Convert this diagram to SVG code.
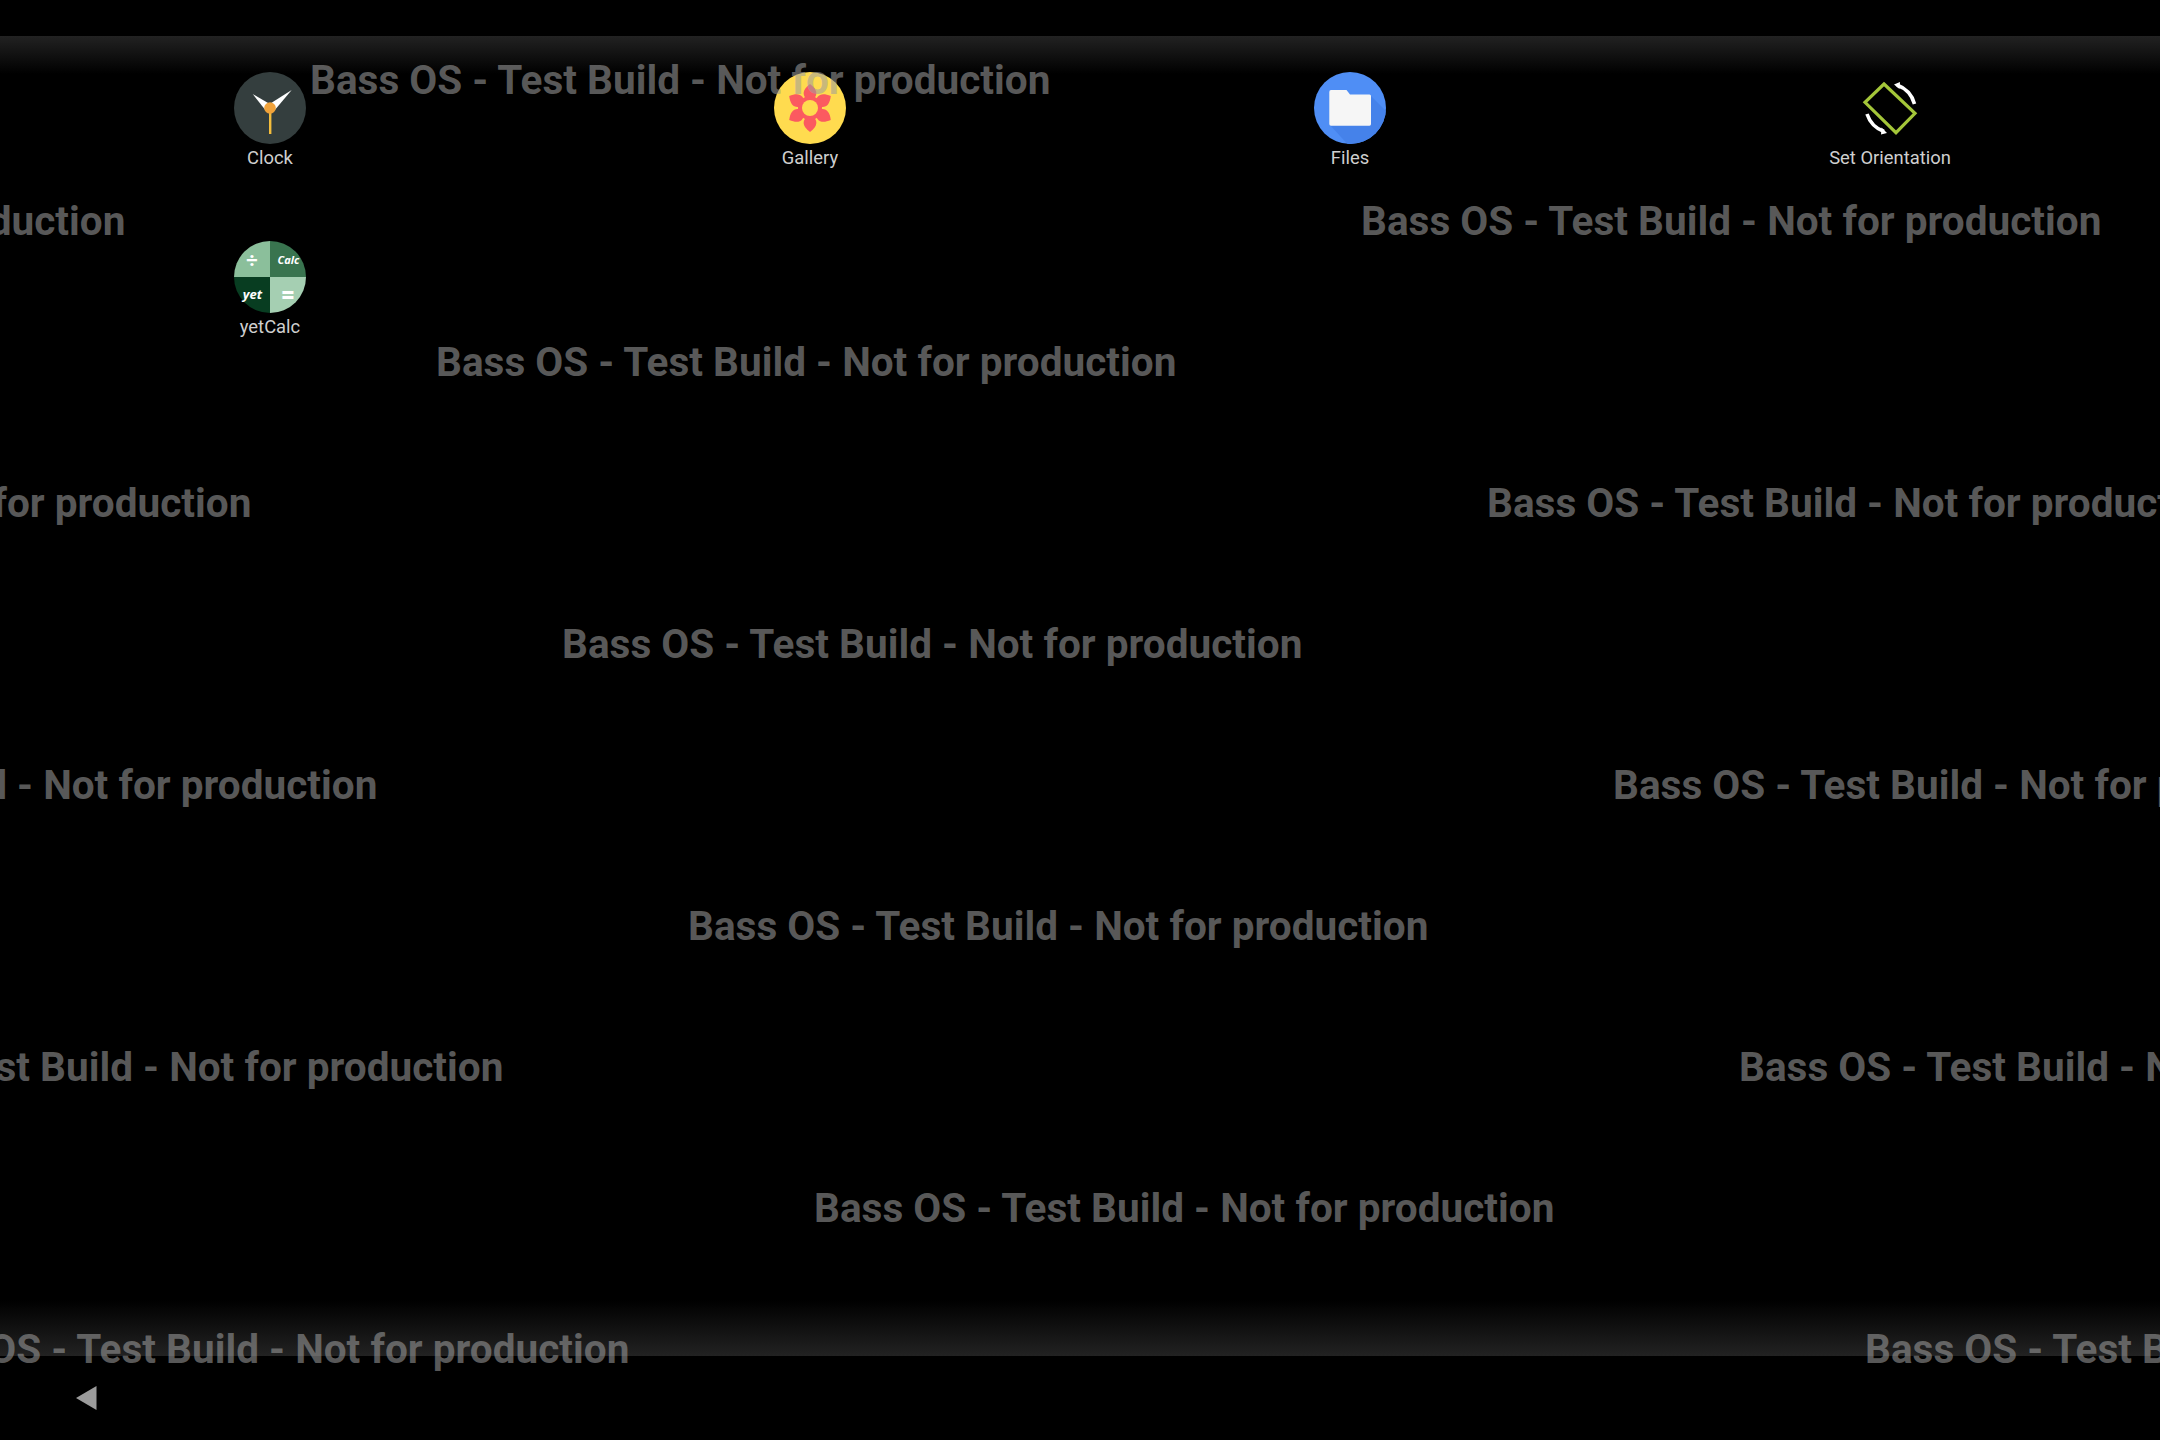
<svg xmlns="http://www.w3.org/2000/svg" width="2160" height="1440" viewBox="0 0 2160 1440">
<style>
.wm{font-family:Roboto,"Liberation Sans",sans-serif;font-weight:700;font-size:40.55px;fill:#9e9e9e;fill-opacity:.56}
.lb{font-family:Roboto,"Liberation Sans",sans-serif;font-size:18.4px;fill:#cfcfcf;text-anchor:middle}
.ic{font-family:"Open Sans","Liberation Sans",sans-serif;font-weight:700;font-style:italic;fill:#fff;text-anchor:middle}
.op{font-family:Roboto,"Liberation Sans",sans-serif;font-weight:700;fill:#fff;text-anchor:middle}
</style>
<defs>
<linearGradient id="top" x1="0" y1="0" x2="0" y2="1"><stop offset="0" stop-color="#222"/><stop offset="1" stop-color="#000"/></linearGradient>
<linearGradient id="bot" x1="0" y1="0" x2="0" y2="1"><stop offset="0" stop-color="#000"/><stop offset="1" stop-color="#222"/></linearGradient>
<clipPath id="calc"><circle cx="270" cy="277" r="36"/></clipPath>
<clipPath id="files"><circle cx="1350" cy="108" r="36"/></clipPath>
<path id="petal" d="M0 -6C-9 -12 -8 -18 0 -24C8 -18 9 -12 0 -6Z"/>
</defs>
<rect width="2160" height="1440" fill="#000"/>
<rect y="36" width="2160" height="38" fill="url(#top)"/>
<rect y="1300" width="2160" height="56" fill="url(#bot)"/>
<g id="node-clock">
<circle cx="270" cy="108" r="36" fill="#343e3e"/>
<path d="M252.700 94 L271.500 105 L266.500 111.500Z" fill="#fff"/>
<path d="M291.700 90 L274 111 L268 105Z" fill="#fff"/>
<rect x="269" y="110" width="2.400" height="24" fill="#f4bd3c"/>
<circle cx="270" cy="108" r="5.800" fill="#f0a23a"/>
<text class="lb" x="270" y="164">Clock</text>
</g>
<g id="node-gallery">
<circle cx="810" cy="108" r="36" fill="#ffdb4f"/>
<g fill="#fb5a60">
<use href="#petal" transform="translate(810 108)"/>
<use href="#petal" transform="translate(810 108) rotate(60)"/>
<use href="#petal" transform="translate(810 108) rotate(120)"/>
<use href="#petal" transform="translate(810 108) rotate(180)"/>
<use href="#petal" transform="translate(810 108) rotate(240)"/>
<use href="#petal" transform="translate(810 108) rotate(300)"/>
<circle cx="810" cy="108" r="12"/>
</g>
<circle cx="810" cy="108" r="8" fill="#ffdb4f"/>
<text class="lb" x="810" y="164">Gallery</text>
</g>
<g id="node-files">
<circle cx="1350" cy="108" r="36" fill="#4f8ef5"/>
<path clip-path="url(#files)" d="M1371 96 L1400 125 L1400 160 L1362 160 L1330 125Z" fill="#4582ea"/>
<path d="M1331 90H1346.500L1350 94.500H1369.500Q1371 94.500 1371 96V124Q1371 125.700 1369.500 125.700H1331Q1329.300 125.700 1329.300 124V92Q1329.300 90 1331 90Z" fill="#f6f6f6"/>
<text class="lb" x="1350" y="164">Files</text>
</g>
<g id="node-orientation">
<path d="M1884 84L1915 113.300L1896 132.700L1865 102.300Z" fill="none" stroke="#a4c639" stroke-width="3.200"/>
<path d="M1897 85A28 28 0 0 1 1914.500 104" fill="none" stroke="#fff" stroke-width="3.600"/>
<path d="M1894 84.500L1900 82L1899.500 89Z" fill="#fff"/>
<path d="M1867 114A28 28 0 0 0 1884 131.500" fill="none" stroke="#fff" stroke-width="3.600"/>
<path d="M1887 133L1881 134.500L1881.500 127.500Z" fill="#fff"/>
<text class="lb" x="1890" y="164">Set Orientation</text>
</g>
<g id="node-yetcalc">
<g clip-path="url(#calc)">
<rect x="234" y="241" width="36" height="36" fill="#8bbf9b"/>
<rect x="270" y="241" width="36" height="36" fill="#39744f"/>
<rect x="234" y="277" width="36" height="36" fill="#083d21"/>
<rect x="270" y="277" width="36" height="36" fill="#a5cfb2"/>
</g>
<text class="op" x="252" y="266.500" font-size="20">÷</text>
<text class="ic" x="288.500" y="264" font-size="11">Calc</text>
<text class="ic" x="252.500" y="299" font-size="13">yet</text>
<text class="op" x="288" y="303" font-size="25">=</text>
<text class="lb" x="270" y="333">yetCalc</text>
</g>
<g id="node-back"><path d="M76 1398L96.500 1386V1410Z" fill="#9b9b9b"/></g>
<g id="connectors"/>
<g id="watermarks">
<text class="wm" x="310" y="94">Bass OS - Test Build - Not for production</text>
<text class="wm" x="-615" y="235">Bass OS - Test Build - Not for production</text>
<text class="wm" x="1361" y="235">Bass OS - Test Build - Not for production</text>
<text class="wm" x="436" y="376">Bass OS - Test Build - Not for production</text>
<text class="wm" x="-489" y="517">Bass OS - Test Build - Not for production</text>
<text class="wm" x="1487" y="517">Bass OS - Test Build - Not for production</text>
<text class="wm" x="562" y="658">Bass OS - Test Build - Not for production</text>
<text class="wm" x="-363" y="799">Bass OS - Test Build - Not for production</text>
<text class="wm" x="1613" y="799">Bass OS - Test Build - Not for production</text>
<text class="wm" x="688" y="940">Bass OS - Test Build - Not for production</text>
<text class="wm" x="-237" y="1081">Bass OS - Test Build - Not for production</text>
<text class="wm" x="1739" y="1081">Bass OS - Test Build - Not for production</text>
<text class="wm" x="814" y="1222">Bass OS - Test Build - Not for production</text>
<text class="wm" x="-111" y="1363">Bass OS - Test Build - Not for production</text>
<text class="wm" x="1865" y="1363">Bass OS - Test Build - Not for production</text>
</g>
</svg>
